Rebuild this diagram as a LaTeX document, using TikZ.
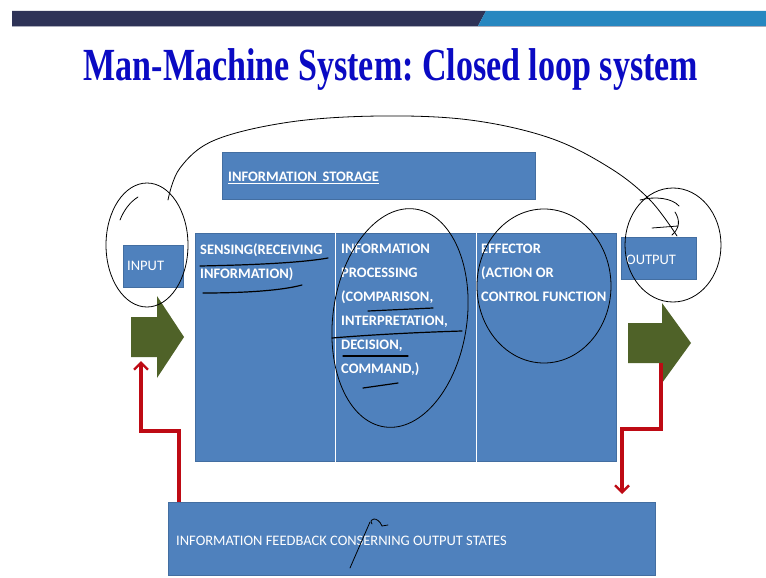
\documentclass[tikz,border=0pt]{standalone}
\usepackage{fontspec}
\setmainfont{Carlito}
\newfontfamily\titlefont{Liberation Serif}
\usetikzlibrary{arrows.meta}
\definecolor{boxblue}{RGB}{79,129,189}
\definecolor{navy}{RGB}{46,51,87}
\definecolor{barblue}{RGB}{39,135,192}
\definecolor{olive}{RGB}{79,98,40}
\definecolor{fbred}{RGB}{190,10,20}
\definecolor{titleblue}{RGB}{10,10,195}
\begin{document}
\begin{tikzpicture}[x=1pt,y=-1pt,
  blbox/.style={fill=boxblue, draw=boxblue!85!black, line width=0.5pt, inner sep=0pt, anchor=north west},
  boxtext/.style={text=white, font=\fontsize{14.5}{24}\selectfont\bfseries, anchor=north west, align=left, inner sep=0pt},
  plaintext/.style={text=white, font=\fontsize{14.5}{16}\selectfont, anchor=west, inner sep=0pt},
  greenarrow/.style={fill=olive},
  fbline/.style={draw=fbred, line width=3.2pt, -{Straight Barb[length=7pt,width=14pt,line width=2.4pt]}},
  hand/.style={draw=black, line width=0.8pt, line cap=round}
]
\useasboundingbox (0,0) rectangle (766,578);
\fill[white] (0,0) rectangle (766,578);
% top bar
\fill[navy] (12,11) -- (486,11) -- (478,26) -- (12,26) -- cycle;
\fill[barblue] (486,11) -- (766,11) -- (766,26) -- (478,26) -- cycle;
\fill[navy!40] (12,26) rectangle (766,27.5);
% title
\node[text=titleblue, inner sep=0pt] (title) at (391,70)
  {\scalebox{0.74}[1]{\titlefont\bfseries\fontsize{46}{46}\selectfont Man-Machine System:\kern-4pt{} Closed loop system}};
% information storage
\node[blbox, minimum width=313pt, minimum height=47pt] (storage) at (222,152) {};
\node[boxtext, anchor=west] (storaget) at (228,178) {\underline{INFORMATION\, STORAGE}};
% input
\node[blbox, minimum width=60pt, minimum height=42pt] (input) at (123,245) {};
\node[plaintext] (inputt) at (127,266) {INPUT};
% main box
\node[blbox, minimum width=140pt, minimum height=228pt] (sens) at (195,233) {};
\node[blbox, minimum width=141pt, minimum height=228pt] (proc) at (335,233) {};
\node[blbox, minimum width=140pt, minimum height=228pt] (eff) at (476,233) {};
\draw[white, line width=1pt] (proc.north west) -- (proc.south west);
\draw[white, line width=1pt] (eff.north west) -- (eff.south west);
\node[boxtext] (senst) at (200,244) {SENSING(RECEIVING\\INFORMATION)};
\node[boxtext] (proct) at (341,244) {INFORMATION\\PROCESSING\\(COMPARISON,\\INTERPRETATION,\\DECISION,\\COMMAND,)};
\node[boxtext] (efft) at (481,244) {EFFECTOR\\(ACTION OR\\CONTROL FUNCTION};
% output
\node[blbox, minimum width=75pt, minimum height=42pt] (output) at (621,237) {};
\node[plaintext] (outputt) at (626,260) {OUTPUT};
% feedback
\node[blbox, minimum width=487pt, minimum height=73pt] (fb) at (168,502) {};
\node[plaintext] (fbt) at (176,541) {INFORMATION FEEDBACK CONSERNING OUTPUT STATES};
% green arrows
\fill[greenarrow] (131,317) -- (157,317) -- (157,296) -- (184,337) -- (157,378) -- (157,357) -- (131,357) -- cycle;
\fill[greenarrow] (628,323) -- (662,323) -- (662,303) -- (691,343) -- (662,383) -- (662,363) -- (628,363) -- cycle;
% feedback connectors
\coordinate (fbL) at (179,502);
\coordinate (inA) at (141,361);
\coordinate (outA) at (661,363);
\coordinate (fbR) at (622,494);
\draw[fbline] (fbL) -- (179,431) -- (141,431) -- (inA);
\draw[fbline] (outA) -- (661,429) -- (622,429) -- (fbR);
% handwritten annotations
\draw[hand] plot[smooth, tension=0.6] coordinates {(168,200) (180,168) (215,140) (290,122) (380,116) (470,120) (550,138) (610,168) (650,200) (677,236)};
\draw[hand] (147,245) ellipse[x radius=41, y radius=62];
\draw[hand] (120,220) .. controls (124,210) and (130,202) .. (138,197);
\draw[hand, rotate around={-8:(400,318)}] (400,318) ellipse[x radius=67, y radius=110];
\draw[hand] (544,286) ellipse[x radius=67, y radius=77];
\draw[hand] (673,245) ellipse[x radius=48, y radius=57];
\draw[hand] (640,200) .. controls (655,196) and (672,198) .. (679,206);
\draw[hand] (652,228) -- (678,226);
\draw[hand] (675,212) .. controls (680,220) and (680,228) .. (672,235);
% underlines
\draw[hand, line width=1.2pt] (200,266) .. controls (250,265) and (300,263) .. (328,258);
\draw[hand, line width=1.2pt] (203,293) .. controls (240,293) and (280,291) .. (302,285);
\draw[hand, line width=1.2pt] (368,311) -- (433,308);
\draw[hand, line width=1.2pt] (332,338) .. controls (380,334) and (430,332) .. (462,331);
\draw[hand, line width=1.2pt] (343,356) -- (408,356);
\draw[hand, line width=1.2pt] (363,388) -- (398,383);
% correction mark
\draw[hand] (350,568) -- (370,522);
\draw[hand] (372,524) .. controls (368,518) and (378,516) .. (382,526) -- (388,525);
\end{tikzpicture}
\end{document}
